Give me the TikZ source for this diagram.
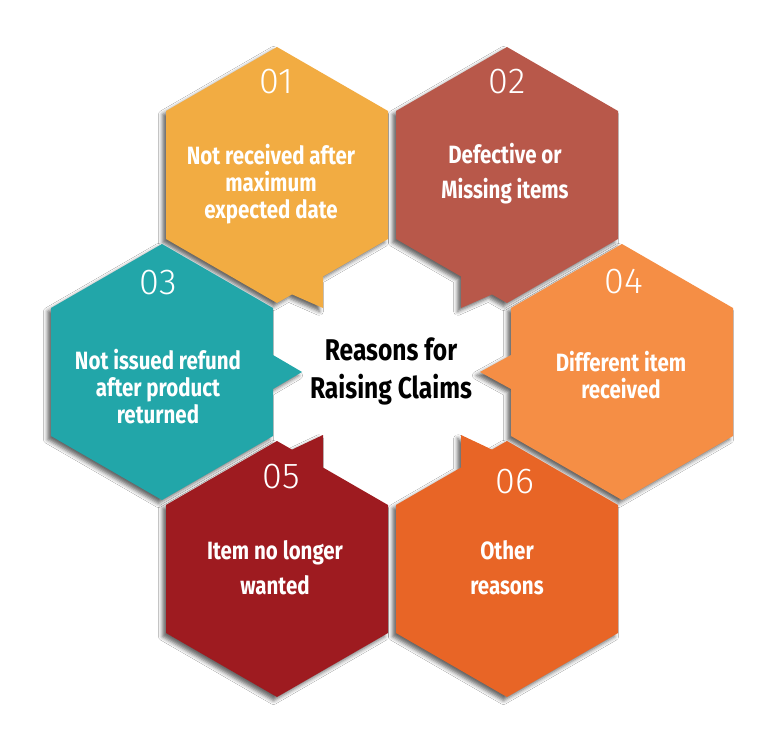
\documentclass[tikz,border=0pt]{standalone}
\usepackage{fontspec}
\setmainfont{Fira Sans}
\newfontfamily\condfont[FakeStretch=0.82]{Fira Sans}
\newfontfamily\numfont{Fira Sans Light}
\usetikzlibrary{shadows.blur}
\definecolor{cellA}{RGB}{242,172,66}
\definecolor{cellB}{RGB}{184,88,74}
\definecolor{cellC}{RGB}{34,166,169}
\definecolor{cellD}{RGB}{245,142,69}
\definecolor{cellE}{RGB}{158,27,32}
\definecolor{cellF}{RGB}{232,101,38}
\tikzset{
  cell/.style={
    draw = none,
    blur shadow = {shadow xshift=-3.5pt, shadow yshift=-3.5pt, shadow blur radius=4pt, shadow opacity=60}
  },
  celltext/.style={
    text = white,
    align = center,
    inner sep = 0pt,
    font = \condfont\bfseries\fontsize{25}{27}\selectfont
  },
  celltextwide/.style={
    celltext,
    font = \condfont\bfseries\fontsize{25}{35}\selectfont
  },
  cellnum/.style={
    text = white,
    inner sep = 0pt,
    font = \numfont\fontsize{36}{36}\selectfont
  },
  hub/.style={
    text = black,
    align = center,
    inner sep = 0pt,
    font = \condfont\bfseries\fontsize{30}{38}\selectfont
  }
}
\begin{document}
\begin{tikzpicture}[x=1pt,y=-1pt]
  \useasboundingbox[fill=white] (0,0) rectangle (777,741);
  \begin{scope}[shift={(277,175)}]
    \fill[cellA,cell] (0,-128) -- (111,-64) -- (111,64) -- (46,101.5) -- (46,133) -- (15,119.4) -- (0,128) -- (-111,64) -- (-111,-64) -- cycle;
  \end{scope}
  \begin{scope}[shift={(507,175)}]
    \fill[cellB,cell] (0,-128) -- (111,-64) -- (111,64) -- (0,128) -- (-15,119.4) -- (-46,133) -- (-46,101.5) -- (-111,64) -- (-111,-64) -- cycle;
  \end{scope}
  \begin{scope}[shift={(162,372)}]
    \fill[cellC,cell] (0,-128) -- (111,-64) -- (111,-17) -- (140,0) -- (111,17) -- (111,64) -- (0,128) -- (-111,64) -- (-111,-64) -- cycle;
  \end{scope}
  \begin{scope}[shift={(622,372)}]
    \fill[cellD,cell] (0,-128) -- (111,-64) -- (111,64) -- (0,128) -- (-111,64) -- (-111,17) -- (-142,0) -- (-111,-17) -- (-111,-64) -- cycle;
  \end{scope}
  \begin{scope}[shift={(277,569)}]
    \fill[cellE,cell] (0,-128) -- (15,-119.4) -- (46,-134) -- (46,-101.5) -- (111,-64) -- (111,64) -- (0,128) -- (-111,64) -- (-111,-64) -- cycle;
  \end{scope}
  \begin{scope}[shift={(507,569)}]
    \fill[cellF,cell] (0,-128) -- (111,-64) -- (111,64) -- (0,128) -- (-111,64) -- (-111,-64) -- (-46,-101.5) -- (-46,-134) -- (-15,-119.4) -- cycle;
  \end{scope}
  \foreach \num/\px/\py in {01/276/82,02/507/82,03/158/283,04/624/282,05/281/477,06/515/482}{
    \node[cellnum] (n\num) at (\px,\py) {\num};
  }
  \node[celltext] (received) at (271,184) {Not received after\\maximum\\expected date};
  \node[celltextwide] (defective) at (505,174) {Defective or\\Missing items};
  \node[celltext] (refund) at (158,387) {Not issued refund\\after product\\returned};
  \node[celltext] (different) at (621,375) {Different item\\received};
  \node[celltextwide] (wanted) at (275,568) {Item no longer\\wanted};
  \node[celltextwide] (other) at (507,568) {Other\\reasons};
  \node[hub] (reasons) at (391,371) {Reasons for\\Raising Claims};
\end{tikzpicture}
\end{document}
